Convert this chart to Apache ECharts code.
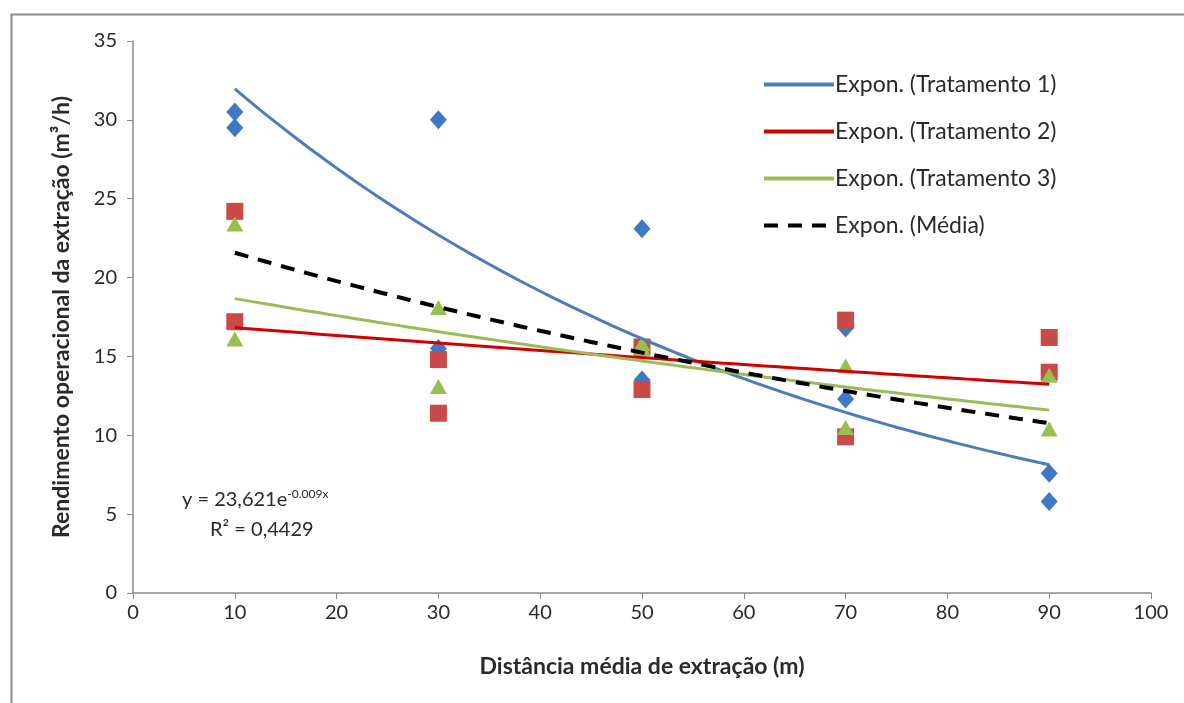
<!DOCTYPE html>
<html>
<head>
<meta charset="utf-8">
<script src="https://cdn.jsdelivr.net/npm/echarts@6/dist/echarts.min.js"></script>
<style>
html,body{margin:0;padding:0;background:#fff;}
#chart{width:1184px;height:703px;}
</style>
</head>
<body>
<div id="chart"></div>
<script>
// ---- data ----
const distances = [10, 10, 30, 30, 50, 50, 70, 70, 90, 90];
const trat1 = [30.5, 29.5, 30.0, 15.5, 23.1, 13.5, 16.8, 12.3, 7.6, 5.8];
const trat2 = [24.2, 17.2, 14.8, 11.4, 15.6, 12.9, 17.3, 9.9, 16.2, 14.0];
const trat3 = [23.4, 16.1, 18.1, 13.1, 15.8, 15.5, 14.4, 10.5, 13.8, 10.4];
const xTicks = [0, 10, 20, 30, 40, 50, 60, 70, 80, 90, 100];
const yTicks = [0, 5, 10, 15, 20, 25, 30, 35];
const seriesNames = ['Tratamento 1', 'Tratamento 2', 'Tratamento 3'];
const trendNames = ['Expon. (Tratamento 1)', 'Expon. (Tratamento 2)', 'Expon. (Tratamento 3)', 'Expon. (Média)'];
const eqLine1 = 'y = 23,621e';
const eqExp = '-0.009x';
const eqLine2 = 'R² = 0,4429';

// exponential least-squares fit (Excel "Expon." trendline)
function expFit(xs, ys) {
  const n = xs.length;
  let mx = 0, ml = 0;
  for (let i = 0; i < n; i++) { mx += xs[i]; ml += Math.log(ys[i]); }
  mx /= n; ml /= n;
  let sxy = 0, sxx = 0;
  for (let i = 0; i < n; i++) { sxy += (xs[i] - mx) * (Math.log(ys[i]) - ml); sxx += (xs[i] - mx) ** 2; }
  const b = sxy / sxx;
  const a = Math.exp(ml - b * mx);
  return { a, b };
}
function curve(fit, x0, x1) {
  const pts = [];
  for (let x = x0; x <= x1; x += 1) pts.push([x, fit.a * Math.exp(fit.b * x)]);
  return pts;
}
const allX = distances.concat(distances, distances);
const allY = trat1.concat(trat2, trat3);
const fits = [expFit(distances, trat1), expFit(distances, trat2), expFit(distances, trat3), expFit(allX, allY)];

const pointColors = ['#3f78c4', '#c94a47', '#98c04f'];
const pointSymbols = ['diamond', 'rect', 'triangle'];
const pointSizes = [[17, 19], [17, 17], [17, 15]];
const lineColors = ['#4a7ebb', '#d40000', '#9bbb59', '#000000'];

const font = 'Lato, "Open Sans", sans-serif';
const chart = echarts.init(document.getElementById('chart'), null, { renderer: 'canvas' });

const scatterSeries = [trat1, trat2, trat3].map((vals, k) => ({
  name: seriesNames[k],
  type: 'scatter',
  symbol: pointSymbols[k],
  symbolSize: pointSizes[k],
  itemStyle: { color: pointColors[k], opacity: 1 },
  data: distances.map((d, i) => [d, vals[i]]),
  z: 2
}));
const lineSeries = fits.map((f, k) => ({
  name: trendNames[k],
  type: 'line',
  showSymbol: false,
  symbol: 'none',
  smooth: false,
  lineStyle: { color: lineColors[k], width: k === 3 ? 4 : 3, type: k === 3 ? [14, 10] : 'solid' },
  itemStyle: { color: lineColors[k] },
  data: curve(f, 10, 90),
  z: 3
}));

chart.setOption({
  animation: false,
  backgroundColor: '#ffffff',
  textStyle: { fontFamily: font },
  grid: { left: 133, right: 33, top: 41, bottom: 110 },
  legend: {
    data: trendNames,
    orient: 'vertical',
    left: 757,
    top: 68,
    itemWidth: 70,
    itemHeight: 14,
    itemGap: 24,
    itemStyle: { opacity: 0 },
    lineStyle: { width: 4 },
    textStyle: { fontFamily: font, fontSize: 23, color: '#2a2a2a', padding: [0, 0, 0, -4] }
  },
  xAxis: {
    type: 'value',
    min: xTicks[0],
    max: xTicks[xTicks.length - 1],
    interval: xTicks[1] - xTicks[0],
    name: 'Distância média de extração (m)',
    nameLocation: 'middle',
    nameGap: 62,
    nameTextStyle: { fontFamily: font, fontSize: 23, fontWeight: 'bold', color: '#2a2a2a' },
    axisLine: { show: true, lineStyle: { color: '#8a8a8a', width: 1.5 } },
    axisTick: { show: true, inside: false, length: 6, lineStyle: { color: '#8a8a8a' } },
    axisLabel: { fontSize: 20, color: '#2a2a2a', margin: 10, fontFamily: font },
    splitLine: { show: false }
  },
  yAxis: {
    type: 'value',
    min: yTicks[0],
    max: yTicks[yTicks.length - 1],
    interval: yTicks[1] - yTicks[0],
    name: 'Rendimento operacional da extração (m³/h)',
    nameLocation: 'middle',
    nameGap: 60,
    nameRotate: 90,
    nameTextStyle: { fontFamily: font, fontSize: 23, fontWeight: 'bold', color: '#2a2a2a' },
    axisLine: { show: true, lineStyle: { color: '#8a8a8a', width: 1.5 } },
    axisTick: { show: true, inside: false, length: 6, lineStyle: { color: '#8a8a8a' } },
    axisLabel: { fontSize: 20, color: '#2a2a2a', margin: 16, fontFamily: font },
    splitLine: { show: false }
  },
  graphic: [
    {
      type: 'rect', left: 9, top: 12, silent: true,
      shape: { width: 1200, height: 720 },
      style: { fill: 'none', stroke: '#8c8c8c', lineWidth: 2 }
    },
    {
      type: 'text', left: 182, top: 488,
      style: {
        text: '{m|' + eqLine1 + '}{s|' + eqExp + '}',
        rich: {
          m: { fontFamily: font, fontSize: 20, fill: '#2a2a2a', verticalAlign: 'bottom' },
          s: { fontFamily: font, fontSize: 12, fill: '#2a2a2a', verticalAlign: 'top', padding: [0, 0, 10, 0] }
        }
      }
    },
    {
      type: 'text', left: 210, top: 520,
      style: { text: eqLine2, fontFamily: font, fontSize: 20, fill: '#2a2a2a' }
    }
  ],
  series: scatterSeries.concat(lineSeries)
});
</script>
</body>
</html>
